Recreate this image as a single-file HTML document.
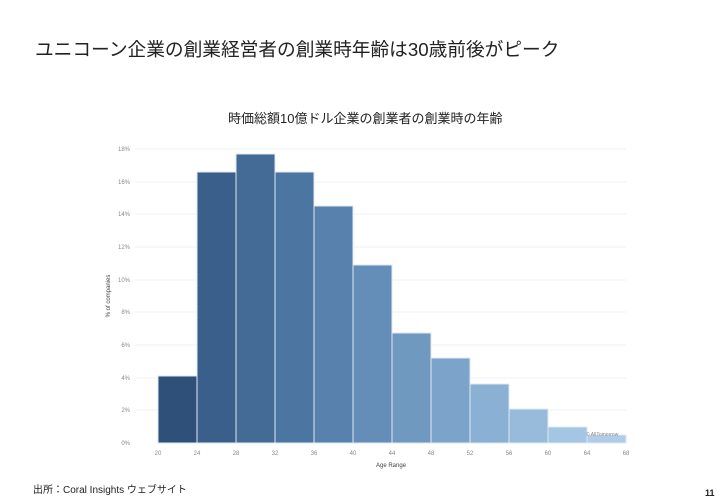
<!DOCTYPE html>
<html><head><meta charset="utf-8"><style>
body{margin:0;width:727px;height:500px;background:#fff;font-family:"Liberation Sans","Noto Sans CJK JP",sans-serif;overflow:hidden;position:relative}
.t{position:absolute;left:35px;top:35px;font-size:18.7px;color:#222}
.src{position:absolute;left:33px;top:481px;font-size:10px;color:#222}
.pg{position:absolute;left:705px;top:488px;font-size:9px;font-weight:bold;color:#222}
</style></head><body>
<div class="t">ユニコーン企業の創業経営者の創業時年齢は30歳前後がピーク</div>
<div style="position:absolute;left:228px;top:108px;font-size:13px;color:#222">時価総額10億ドル企業の創業者の創業時の年齢</div>
<svg width="727" height="500" style="position:absolute;left:0;top:0" font-family="Liberation Sans, sans-serif">
<g stroke="#f0f0f0" stroke-width="1">
<line x1="135" y1="149" x2="626" y2="149"/><line x1="135" y1="182" x2="626" y2="182"/><line x1="135" y1="214" x2="626" y2="214"/><line x1="135" y1="247" x2="626" y2="247"/><line x1="135" y1="280" x2="626" y2="280"/><line x1="135" y1="312" x2="626" y2="312"/><line x1="135" y1="345" x2="626" y2="345"/><line x1="135" y1="378" x2="626" y2="378"/><line x1="135" y1="410" x2="626" y2="410"/>
</g>
<g stroke="#dfe8f2" stroke-width="1">
<rect x="158" y="376" width="39" height="67" fill="#2f5179"/>
<rect x="197" y="172" width="39" height="271" fill="#3a5f8a"/>
<rect x="236" y="154" width="39" height="289" fill="#436b96"/>
<rect x="275" y="172" width="39" height="271" fill="#4c76a2"/>
<rect x="314" y="206" width="39" height="237" fill="#5882ad"/>
<rect x="353" y="265" width="39" height="178" fill="#648db7"/>
<rect x="392" y="333" width="39" height="110" fill="#7099c0"/>
<rect x="431" y="358" width="39" height="85" fill="#7ca4ca"/>
<rect x="470" y="384" width="39" height="59" fill="#8ab0d4"/>
<rect x="509" y="409" width="39" height="34" fill="#98bbdc"/>
<rect x="548" y="427" width="39" height="16" fill="#a4c5e3"/>
<rect x="587" y="435" width="39" height="8" fill="#afcde8"/>
</g>
<g font-size="6" fill="#888" text-anchor="end">
<text x="130" y="151">18%</text><text x="130" y="184">16%</text><text x="130" y="216">14%</text><text x="130" y="249">12%</text><text x="130" y="282">10%</text><text x="130" y="314">8%</text><text x="130" y="347">6%</text><text x="130" y="380">4%</text><text x="130" y="412">2%</text><text x="130" y="445">0%</text>
</g>
<g font-size="6" fill="#888" text-anchor="middle">
<text x="158" y="455">20</text><text x="197" y="455">24</text><text x="236" y="455">28</text><text x="275" y="455">32</text><text x="314" y="455">36</text><text x="353" y="455">40</text><text x="392" y="455">44</text><text x="431" y="455">48</text><text x="470" y="455">52</text><text x="509" y="455">56</text><text x="548" y="455">60</text><text x="587" y="455">64</text><text x="626" y="455">68</text>
</g>
<text x="391" y="467" font-size="6" fill="#444" text-anchor="middle">Age Range</text>
<text transform="translate(110,296) rotate(-90)" font-size="6" fill="#444" text-anchor="middle">% of companies</text>
<text x="586" y="436" font-size="5" fill="#888">© AllTomorrow</text>
</svg>
<div class="src">出所：Coral Insights ウェブサイト</div>
<div class="pg">11</div>
</body></html>
